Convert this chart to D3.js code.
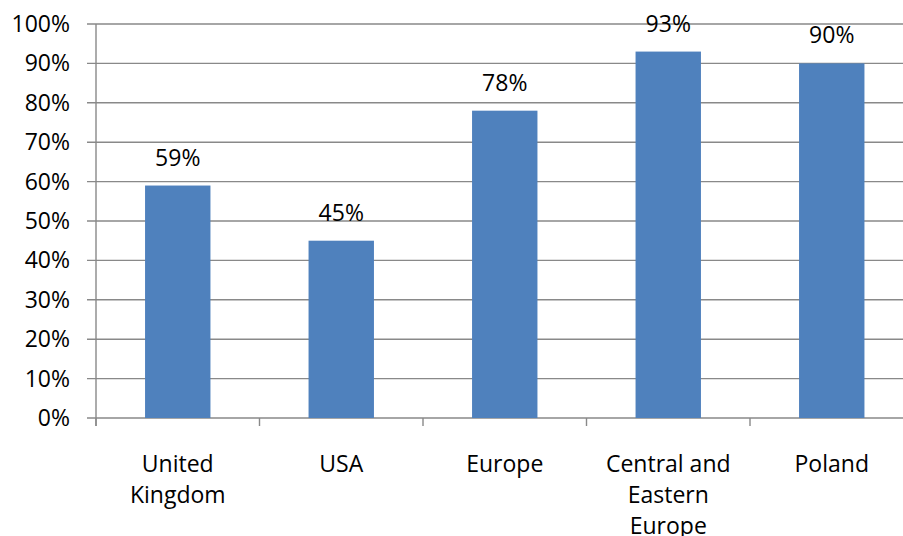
<!DOCTYPE html>
<html>
<head>
<meta charset="utf-8">
<script src="https://cdn.jsdelivr.net/npm/d3@7"></script>
<style>
  html, body { margin: 0; padding: 0; background: #fff; }
  svg { display: block; }
  text { font-family: "Open Sans", "DejaVu Sans", sans-serif; fill: #000; }
</style>
</head>
<body>
<svg id="chart" width="903" height="536"></svg>
<script>
const categories = [["United", "Kingdom"], ["USA"], ["Europe"], ["Central and", "Eastern", "Europe"], ["Poland"]];
const values = [59, 45, 78, 93, 90];
const yTicks = [0, 10, 20, 30, 40, 50, 60, 70, 80, 90, 100];

const svg = d3.select("#chart");
const plotLeft = 96, plotRight = 913.5, plotTop = 24, plotBottom = 418;
const fontSize = 23;
const gridColor = "#898989";

const x = d3.scaleBand()
  .domain(d3.range(categories.length))
  .range([plotLeft, plotRight])
  .paddingInner(0.6)
  .paddingOuter(0.3);
const step = (plotRight - plotLeft) / categories.length;

const y = d3.scaleLinear().domain([0, 100]).range([plotBottom, plotTop]);

// gridlines + y tick marks
svg.append("g").selectAll("line")
  .data(yTicks)
  .join("line")
  .attr("x1", plotLeft - 9)
  .attr("x2", 903)
  .attr("y1", d => y(d))
  .attr("y2", d => y(d))
  .attr("stroke", gridColor)
  .attr("stroke-width", 1.4);

// y axis line
svg.append("line")
  .attr("x1", plotLeft).attr("x2", plotLeft)
  .attr("y1", plotTop).attr("y2", plotBottom + 8)
  .attr("stroke", gridColor).attr("stroke-width", 1.4);

// category tick marks
svg.append("g").selectAll("line")
  .data(d3.range(categories.length + 1))
  .join("line")
  .attr("x1", i => plotLeft + i * step)
  .attr("x2", i => plotLeft + i * step)
  .attr("y1", plotBottom)
  .attr("y2", plotBottom + 8)
  .attr("stroke", gridColor)
  .attr("stroke-width", 1.4);

// y tick labels
svg.append("g").selectAll("text")
  .data(yTicks)
  .join("text")
  .attr("x", 70)
  .attr("y", d => y(d))
  .attr("dy", "0.35em")
  .attr("text-anchor", "end")
  .attr("font-size", fontSize)
  .text(d => d + "%");

// bars
svg.append("g").selectAll("rect")
  .data(values)
  .join("rect")
  .attr("x", (d, i) => x(i))
  .attr("width", x.bandwidth())
  .attr("y", d => y(d))
  .attr("height", d => plotBottom - y(d))
  .attr("fill", "#4F81BD");

// data labels
svg.append("g").selectAll("text")
  .data(values)
  .join("text")
  .attr("x", (d, i) => x(i) + x.bandwidth() / 2)
  .attr("y", d => y(d) - 20)
  .attr("text-anchor", "middle")
  .attr("font-size", fontSize)
  .text(d => d + "%");

// category labels
const cat = svg.append("g").selectAll("text")
  .data(categories)
  .join("text")
  .attr("x", (d, i) => x(i) + x.bandwidth() / 2)
  .attr("y", plotBottom + 53.5)
  .attr("text-anchor", "middle")
  .attr("font-size", fontSize);
cat.selectAll("tspan")
  .data((d, i) => d.map(t => ({t, cx: x(i) + x.bandwidth() / 2})))
  .join("tspan")
  .attr("x", d => d.cx)
  .attr("dy", (d, j) => j === 0 ? 0 : 31)
  .text(d => d.t);
</script>
</body>
</html>
